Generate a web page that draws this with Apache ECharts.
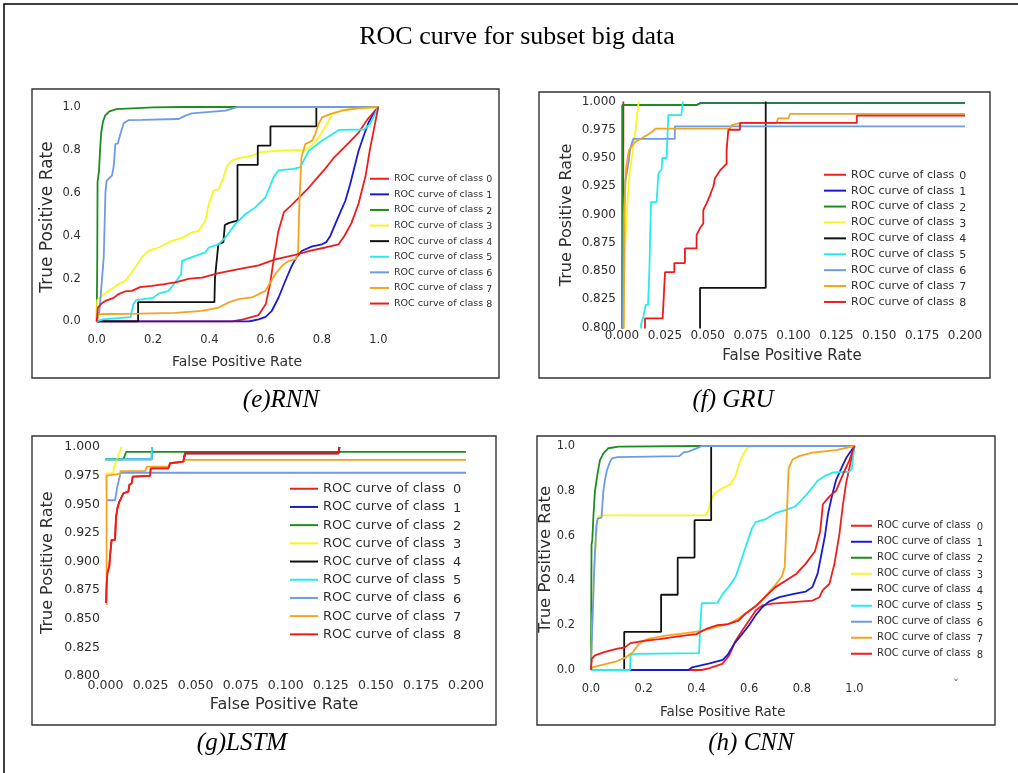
<!DOCTYPE html>
<html><head><meta charset="utf-8">
<script src="https://cdn.jsdelivr.net/npm/echarts@6/dist/echarts.min.js"></script>
<style>html,body{margin:0;padding:0;background:#fff;}#c{width:1018px;height:773px;}</style>
</head><body><div id="c"></div>
<script>
// ---------- DATA ----------
const chartTitle = 'ROC curve for subset big data';
const panelCaptions = ['(e)RNN', '(f) GRU', '(g)LSTM', '(h) CNN'];
const classLabels = ['0','1','2','3','4','5','6','7','8'];
const seriesPrefix = 'ROC curve of class ';
const xAxisTitle = 'False Positive Rate';
const yAxisTitle = 'True Positive Rate';
const fullAxis = [0, 1, 0.2];          // min, max, step
const zoomXAxis = [0, 0.2, 0.025];
const zoomYAxis = [0.8, 1, 0.025];

// (e) RNN  - each entry: [FPR, TPR]
const rnnROC = [
 [[0,0],[0.48,0],[0.52,0.01],[0.575,0.03],[0.6,0.08],[0.615,0.17],[0.63,0.3],[0.645,0.42],[0.665,0.51],[0.69,0.54],[0.72,0.58],[0.75,0.62],[0.78,0.665],[0.81,0.71],[0.84,0.76],[0.87,0.8],[0.9,0.84],[0.93,0.88],[0.96,0.94],[1,1]],
 [[0,0],[0.54,0],[0.575,0.01],[0.6,0.022],[0.622,0.05],[0.646,0.112],[0.67,0.19],[0.693,0.26],[0.71,0.3],[0.729,0.33],[0.765,0.35],[0.8,0.36],[0.815,0.37],[0.83,0.4],[0.847,0.454],[0.865,0.509],[0.883,0.563],[0.9,0.64],[0.915,0.718],[0.93,0.796],[0.948,0.865],[0.966,0.93],[1,1]],
 [[0,0],[0.002,0.3],[0.003,0.65],[0.008,0.7],[0.012,0.8],[0.016,0.88],[0.022,0.93],[0.03,0.96],[0.045,0.98],[0.07,0.99],[0.2,0.998],[0.3,1],[1,1]],
 [[0,0],[0.002,0.1],[0.019,0.12],[0.043,0.143],[0.078,0.174],[0.102,0.19],[0.137,0.252],[0.161,0.3],[0.185,0.33],[0.22,0.345],[0.267,0.376],[0.303,0.39],[0.338,0.415],[0.362,0.423],[0.386,0.47],[0.398,0.547],[0.415,0.61],[0.433,0.617],[0.451,0.672],[0.463,0.726],[0.48,0.75],[0.504,0.762],[0.552,0.773],[0.575,0.788],[0.646,0.796],[0.741,0.8],[0.764,0.82],[0.788,0.858],[0.8,0.882],[0.824,0.936],[0.836,0.967],[0.871,0.986],[1,1]],
 [[0,0],[0.147,0],[0.147,0.09],[0.418,0.09],[0.42,0.2],[0.425,0.27],[0.432,0.36],[0.45,0.37],[0.455,0.45],[0.47,0.46],[0.5,0.47],[0.5,0.73],[0.572,0.73],[0.572,0.82],[0.617,0.82],[0.617,0.91],[0.78,0.91],[0.78,1],[1,1]],
 [[0,0],[0.02,0.01],[0.12,0.02],[0.13,0.08],[0.14,0.1],[0.2,0.11],[0.22,0.13],[0.256,0.143],[0.3,0.22],[0.303,0.283],[0.338,0.3],[0.386,0.322],[0.398,0.345],[0.433,0.36],[0.457,0.392],[0.492,0.454],[0.528,0.5],[0.563,0.532],[0.599,0.578],[0.628,0.672],[0.645,0.705],[0.7,0.712],[0.723,0.72],[0.753,0.796],[0.8,0.843],[0.86,0.893],[0.95,0.895],[0.97,0.92],[1,1]],
 [[0,0],[0.01,0.05],[0.025,0.3],[0.031,0.6],[0.035,0.656],[0.054,0.68],[0.06,0.72],[0.063,0.765],[0.066,0.827],[0.075,0.83],[0.084,0.874],[0.096,0.924],[0.114,0.939],[0.161,0.94],[0.291,0.944],[0.315,0.96],[0.338,0.97],[0.457,0.983],[0.486,0.995],[0.5,1],[1,1]],
 [[0,0],[0.007,0.034],[0.05,0.035],[0.15,0.037],[0.279,0.04],[0.374,0.05],[0.433,0.065],[0.469,0.089],[0.504,0.104],[0.551,0.112],[0.599,0.143],[0.634,0.22],[0.658,0.26],[0.682,0.283],[0.705,0.29],[0.715,0.314],[0.72,0.563],[0.727,0.765],[0.741,0.827],[0.765,0.843],[0.776,0.874],[0.788,0.92],[0.8,0.952],[0.836,0.97],[0.883,0.986],[0.93,0.995],[1,1]],
 [[0,0],[0.004,0.065],[0.018,0.085],[0.031,0.096],[0.06,0.11],[0.078,0.128],[0.1,0.14],[0.125,0.143],[0.154,0.16],[0.196,0.166],[0.24,0.174],[0.279,0.182],[0.33,0.2],[0.374,0.205],[0.433,0.225],[0.504,0.244],[0.575,0.262],[0.634,0.29],[0.705,0.311],[0.76,0.33],[0.812,0.345],[0.859,0.36],[0.88,0.4],[0.905,0.46],[0.93,0.55],[0.955,0.68],[0.97,0.8],[0.985,0.9],[1,1]]
];

// (f) GRU
const gruROC = [
 [[0,0],[0.0008,0],[0.0008,1]],
 [[0,0],[0.0003,0],[0.0003,0.9969],[0.0435,0.9969],[0.0455,0.9985],[0.2,0.9985]],
 [[0,0],[0.0003,0],[0.0003,0.9969],[0.0435,0.9969],[0.0455,0.9985],[0.2,0.9985]],
 [[0,0],[0.001,0.8],[0.0012,0.83],[0.0017,0.867],[0.0023,0.888],[0.0035,0.917],[0.0045,0.938],[0.006,0.953],[0.0068,0.964],[0.008,0.976],[0.0088,0.988],[0.0095,0.997],[0.0098,1]],
 [[0,0],[0.0455,0],[0.0455,0.835],[0.0838,0.835],[0.0838,1]],
 [[0,0],[0.0111,0],[0.0111,0.803],[0.0125,0.81],[0.0138,0.82],[0.0152,0.82],[0.016,0.852],[0.0169,0.911],[0.0202,0.911],[0.0212,0.936],[0.0231,0.94],[0.0235,0.95],[0.026,0.95],[0.027,0.988],[0.0346,0.988],[0.0355,1]],
 [[0,0],[0.0005,0.8],[0.001,0.9],[0.002,0.93],[0.0037,0.945],[0.0045,0.955],[0.0055,0.962],[0.0066,0.967],[0.0308,0.967],[0.0308,0.978],[0.2,0.978]],
 [[0,0],[0.001,0.8],[0.0015,0.9],[0.002,0.93],[0.0025,0.942],[0.004,0.957],[0.0056,0.96],[0.0075,0.964],[0.011,0.967],[0.0154,0.971],[0.0175,0.973],[0.0195,0.976],[0.063,0.976],[0.064,0.979],[0.069,0.981],[0.09,0.981],[0.091,0.985],[0.097,0.985],[0.098,0.989],[0.2,0.989]],
 [[0,0],[0.0134,0],[0.0134,0.808],[0.0237,0.808],[0.0251,0.849],[0.0305,0.849],[0.0305,0.857],[0.0367,0.857],[0.0367,0.87],[0.0435,0.87],[0.0435,0.882],[0.0455,0.888],[0.0474,0.892],[0.0474,0.904],[0.0494,0.91],[0.0513,0.917],[0.0533,0.925],[0.0542,0.932],[0.0572,0.939],[0.061,0.945],[0.061,0.957],[0.062,0.975],[0.0688,0.975],[0.0688,0.981],[0.1369,0.981],[0.1369,0.9875],[0.2,0.9875]]
];

// (g) LSTM  (only the visible part of each curve, above TPR 0.8)
const lstmROC = [
 [[0.0003,0.8637],[0.0006,0.878],[0.001,0.8898],[0.0021,0.8956],[0.0025,0.9044],[0.0034,0.9189],[0.0053,0.9189],[0.0058,0.9378],[0.0066,0.9465],[0.0077,0.9523],[0.0084,0.9544],[0.0099,0.9596],[0.0127,0.961],[0.0132,0.9669],[0.0145,0.9683],[0.0151,0.9741],[0.0247,0.9747],[0.0251,0.9814],[0.0349,0.9814],[0.0358,0.9858],[0.0432,0.9872],[0.0441,0.9945],[0.1292,0.9945],[0.1298,1]],
 [[0,0.9892],[0.0256,0.9892],[0.0258,1]],
 [[0,0.9892],[0.0099,0.9892],[0.0115,0.9958],[0.2,0.9958]],
 [[0.0004,0.962],[0.0004,0.977],[0.0045,0.977],[0.0045,0.982],[0.0065,0.99],[0.009,1]],
 [[0.0432,0.9872],[0.0441,0.9945],[0.1292,0.9945],[0.1298,1]],
 [[0,0.9892],[0.0256,0.9892],[0.0258,1]],
 [[0.0003,0.9535],[0.0053,0.9535],[0.0065,0.965],[0.0084,0.9775],[0.2,0.9775]],
 [[0.0006,0.862],[0.0006,0.975],[0.008,0.9765],[0.0084,0.979],[0.022,0.979],[0.023,0.9828],[0.035,0.9828],[0.036,0.9858],[0.0425,0.9865],[0.044,0.9887],[0.2,0.9887]],
 [[0.0003,0.8637],[0.0006,0.878],[0.001,0.8898],[0.0021,0.8956],[0.0025,0.9044],[0.0034,0.9189],[0.0053,0.9189],[0.0058,0.9378],[0.0066,0.9465],[0.0077,0.9523],[0.0084,0.9544],[0.0099,0.9596],[0.0127,0.961],[0.0132,0.9669],[0.0145,0.9683],[0.0151,0.9741],[0.0247,0.9747],[0.0251,0.9814],[0.0349,0.9814],[0.0358,0.9858],[0.0432,0.9872],[0.0441,0.9945],[0.1292,0.9945],[0.1298,1]]
];

// (h) CNN
const cnnROC = [
 [[0,0],[0.42,0],[0.45,0.008],[0.498,0.027],[0.524,0.064],[0.549,0.131],[0.574,0.176],[0.6,0.221],[0.625,0.266],[0.65,0.288],[0.689,0.296],[0.765,0.303],[0.841,0.31],[0.867,0.325],[0.879,0.355],[0.905,0.385],[0.924,0.475],[0.943,0.609],[0.955,0.728],[0.968,0.833],[0.987,0.937],[1,1]],
 [[0,0],[0.37,0],[0.384,0.012],[0.45,0.03],[0.5,0.045],[0.52,0.07],[0.545,0.12],[0.57,0.155],[0.6,0.2],[0.625,0.245],[0.65,0.28],[0.675,0.305],[0.715,0.325],[0.77,0.34],[0.815,0.35],[0.84,0.37],[0.86,0.43],[0.875,0.52],[0.888,0.6],[0.9,0.7],[0.915,0.78],[0.93,0.848],[0.95,0.9],[0.97,0.95],[1,1]],
 [[0,0],[0.002,0.56],[0.005,0.58],[0.009,0.684],[0.015,0.8],[0.025,0.878],[0.034,0.937],[0.047,0.967],[0.066,0.99],[0.104,0.997],[0.42,1],[1,1]],
 [[0,0],[0.005,0.2],[0.012,0.45],[0.02,0.6],[0.028,0.688],[0.045,0.69],[0.435,0.69],[0.445,0.712],[0.455,0.758],[0.47,0.79],[0.5,0.812],[0.53,0.83],[0.548,0.865],[0.565,0.93],[0.58,0.968],[0.592,0.99],[0.605,0.998],[1,1]],
 [[0,0],[0.126,0],[0.126,0.17],[0.266,0.17],[0.266,0.336],[0.329,0.336],[0.329,0.502],[0.393,0.502],[0.393,0.669],[0.456,0.669],[0.456,1],[1,1]],
 [[0,0],[0.148,0],[0.15,0.067],[0.17,0.072],[0.41,0.075],[0.415,0.2],[0.42,0.298],[0.48,0.3],[0.5,0.34],[0.525,0.375],[0.55,0.42],[0.57,0.49],[0.59,0.56],[0.61,0.63],[0.625,0.66],[0.66,0.672],[0.7,0.7],[0.74,0.715],[0.775,0.73],[0.8,0.76],[0.83,0.8],[0.86,0.845],[0.89,0.868],[0.92,0.882],[0.98,0.885],[0.99,0.9],[1,1]],
 [[0,0],[0.005,0.2],[0.012,0.45],[0.02,0.64],[0.025,0.676],[0.04,0.68],[0.047,0.8],[0.053,0.848],[0.06,0.89],[0.072,0.93],[0.08,0.945],[0.1,0.95],[0.335,0.955],[0.352,0.972],[0.37,0.975],[0.41,0.994],[0.42,1],[1,1]],
 [[0,0],[0.005,0.012],[0.05,0.025],[0.1,0.04],[0.13,0.055],[0.16,0.08],[0.18,0.115],[0.2,0.13],[0.22,0.14],[0.29,0.155],[0.36,0.165],[0.42,0.175],[0.47,0.19],[0.52,0.205],[0.56,0.23],[0.6,0.265],[0.64,0.3],[0.67,0.34],[0.7,0.38],[0.725,0.42],[0.735,0.46],[0.74,0.6],[0.745,0.75],[0.75,0.9],[0.765,0.94],[0.79,0.955],[0.84,0.97],[0.93,0.982],[1,1]],
 [[0,0],[0.003,0.05],[0.015,0.065],[0.05,0.08],[0.1,0.095],[0.127,0.1],[0.15,0.12],[0.2,0.13],[0.26,0.138],[0.33,0.15],[0.4,0.16],[0.44,0.185],[0.48,0.2],[0.52,0.205],[0.56,0.22],[0.585,0.25],[0.62,0.28],[0.66,0.325],[0.7,0.37],[0.74,0.4],[0.78,0.43],[0.815,0.475],[0.85,0.53],[0.87,0.62],[0.88,0.74],[0.905,0.775],[0.93,0.8],[0.955,0.87],[0.98,0.935],[1,1]]
];

// ---------- STYLE / LAYOUT ----------
const classColors = ['#f01e1e','#1a1ad2','#1f8c1f','#f6f620','#111111','#24ecec','#6d9be6','#f4a41e','#ee1b1b'];
const TXT = '#2e2e2e';
const SANS = '"DejaVu Sans", sans-serif';
const SERIF = '"Liberation Serif", "Times New Roman", serif';

const panels = [
 { data: rnnROC, x: fullAxis, y: fullAxis, dec: 1, grid: {left: 96.7, top: 107, width: 281.6, height: 214.5},
   tick: 11.5, mx: 13, my: 16,
   leg: {left: 370, top: 172.5, w: 19, fs: 9.5, lh: 11.5, gap: 3.1, pad: 3},
   xt: {x: 237, y: 362, fs: 14}, yt: {x: 48, y: 217, fs: 17},
   box: [32, 89, 467, 289], cap: [281, 400] },
 { data: gruROC, x: zoomXAxis, y: zoomYAxis, dec: 3, grid: {left: 622, top: 101.5, width: 343, height: 226},
   tick: 12, mx: 2, my: 6,
   leg: {left: 824, top: 168, w: 22, fs: 11, lh: 13, gap: 2.4, pad: 5},
   xt: {x: 792, y: 356, fs: 15}, yt: {x: 566.7, y: 215, fs: 16},
   box: [539, 92, 451, 286], cap: [733, 400] },
 { data: lstmROC, x: zoomXAxis, y: zoomYAxis, dec: 3, grid: {left: 105.5, top: 447, width: 360.5, height: 229},
   tick: 12.5, mx: 3, my: 5.5,
   leg: {left: 290, top: 481, w: 28, fs: 13, lh: 15.5, gap: 2.7, pad: 8},
   xt: {x: 284, y: 705, fs: 16}, yt: {x: 48.3, y: 562.7, fs: 16},
   box: [32, 436, 464, 289], cap: [242, 743] },
 { data: cnnROC, x: fullAxis, y: fullAxis, dec: 1, grid: {left: 591, top: 446, width: 263.5, height: 224},
   tick: 11.5, mx: 13, my: 16,
   leg: {left: 851, top: 519.5, w: 21, fs: 10, lh: 12, gap: 3.5, pad: 6},
   xt: {x: 722.7, y: 712, fs: 13.5}, yt: {x: 545.7, y: 559.3, fs: 16.5},
   box: [537, 436, 458, 289], cap: [751, 743] }
];

const names = classLabels.map(c => seriesPrefix + c);
const grids = [], xAxes = [], yAxes = [], series = [], legends = [], graphics = [];

panels.forEach((p, i) => {
  grids.push(Object.assign({containLabel: false, outerBoundsMode: 'none'}, p.grid));
  const axisBase = (r, m) => ({
    type: 'value', gridIndex: i, min: r[0], max: r[1], interval: r[2],
    axisLine: {show: false}, axisTick: {show: false}, splitLine: {show: false},
    axisLabel: {fontFamily: SANS, fontSize: p.tick, color: TXT, margin: m,
      formatter: v => Number(v).toFixed(p.dec)}
  });
  xAxes.push(axisBase(p.x, p.mx));
  yAxes.push(axisBase(p.y, p.my));
  p.data.forEach((pts, k) => {
    series.push({
      type: 'line', name: names[k], xAxisIndex: i, yAxisIndex: i, data: pts,
      showSymbol: false, symbol: 'none', silent: true, animation: false, clip: true,
      lineStyle: {width: 1.8, color: classColors[k]}, itemStyle: {color: classColors[k]}
    });
  });
  const L = p.leg;
  legends.push({
    orient: 'vertical', left: L.left, top: L.top, padding: 0, itemWidth: L.w, itemHeight: 2,
    itemGap: L.gap, icon: 'rect', selectedMode: false, data: names,
    formatter: n => 'ROC curve of class{d|' + n.slice(-1) + '}',
    textStyle: {fontFamily: SANS, fontSize: L.fs, color: TXT, lineHeight: L.lh,
      rich: {d: {fontFamily: SANS, fontSize: L.fs, color: TXT, lineHeight: L.lh, padding: [2.5, 0, 0, L.pad]}}}
  });
  graphics.push({type: 'rect', silent: true, shape: {x: p.box[0], y: p.box[1], width: p.box[2], height: p.box[3]},
    style: {fill: 'none', stroke: '#333', lineWidth: 1.4}});
  graphics.push({type: 'text', silent: true, x: p.xt.x, y: p.xt.y,
    style: {text: xAxisTitle, fontFamily: SANS, fontSize: p.xt.fs, fill: TXT, align: 'center', verticalAlign: 'middle'}});
  graphics.push({type: 'text', silent: true, x: p.yt.x, y: p.yt.y, rotation: Math.PI / 2,
    style: {text: yAxisTitle, fontFamily: SANS, fontSize: p.yt.fs, fill: TXT, align: 'center', verticalAlign: 'middle'}});
  graphics.push({type: 'text', silent: true, x: p.cap[0], y: p.cap[1],
    style: {text: panelCaptions[i], fontFamily: SERIF, fontStyle: 'italic', fontSize: 25, fill: '#000', align: 'center', verticalAlign: 'middle'}});
});

graphics.push({type: 'rect', silent: true, shape: {x: 4, y: 4, width: 1100, height: 900},
  style: {fill: 'none', stroke: '#000', lineWidth: 1.5}});
graphics.push({type: 'text', silent: true, x: 517, y: 37,
  style: {text: chartTitle, fontFamily: SERIF, fontSize: 26, fill: '#000', align: 'center', verticalAlign: 'middle'}});
graphics.push({type: 'text', silent: true, x: 956, y: 686,
  style: {text: 'ˇ', fontFamily: SANS, fontSize: 12, fill: '#666', align: 'center', verticalAlign: 'middle'}});

const chart = echarts.init(document.getElementById('c'), null, {renderer: 'canvas'});
chart.setOption({
  animation: false, backgroundColor: '#fff',
  grid: grids, xAxis: xAxes, yAxis: yAxes, series: series, legend: legends, graphic: graphics
});
</script></body></html>
